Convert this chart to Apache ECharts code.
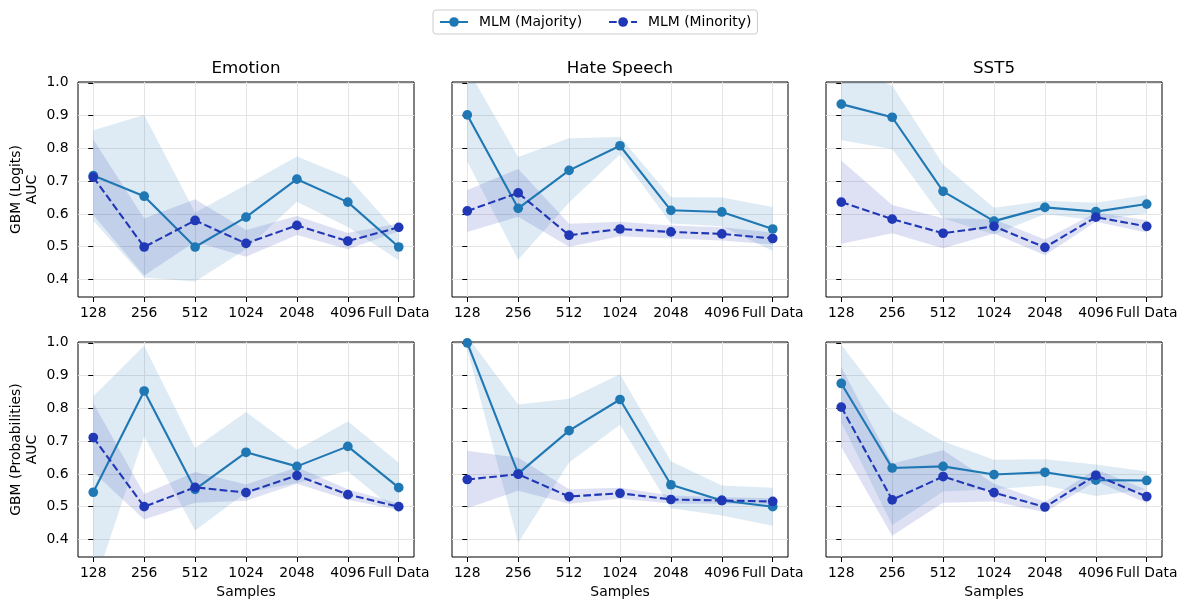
<!DOCTYPE html>
<html>
<head>
<meta charset="utf-8">
<script src="https://cdn.jsdelivr.net/npm/echarts@6/dist/echarts.min.js"></script>
<style>html,body{margin:0;padding:0;background:#fff;}#c{width:1187px;height:610px;}</style>
</head>
<body>
<div id="c"></div>
<script>
// ---- data ----
const categories = ['128', '256', '512', '1024', '2048', '4096', 'Full Data'];
const datasetNames = ['Emotion', 'Hate Speech', 'SST5'];
const rowNames = ['GBM (Logits)', 'GBM (Probabilities)'];
const seriesNames = ['MLM (Majority)', 'MLM (Minority)'];
const yTicks = [0.4, 0.5, 0.6, 0.7, 0.8, 0.9, 1.0];

// GBM (Logits)
const logitsEmotionMaj    = [0.717, 0.654, 0.499, 0.590, 0.706, 0.636, 0.499];
const logitsEmotionMajStd = [0.138, 0.248, 0.105, 0.098, 0.069, 0.076, 0.040];
const logitsEmotionMin    = [0.712, 0.499, 0.580, 0.510, 0.565, 0.517, 0.559];
const logitsEmotionMinStd = [0.115, 0.087, 0.065, 0.041, 0.029, 0.025, 0.012];

const logitsHateMaj    = [0.902, 0.617, 0.733, 0.808, 0.611, 0.606, 0.554];
const logitsHateMajStd = [0.142, 0.157, 0.098, 0.027, 0.040, 0.044, 0.067];
const logitsHateMin    = [0.609, 0.664, 0.535, 0.554, 0.545, 0.539, 0.525];
const logitsHateMinStd = [0.064, 0.073, 0.035, 0.022, 0.020, 0.020, 0.018];

const logitsSstMaj    = [0.935, 0.895, 0.669, 0.578, 0.620, 0.607, 0.630];
const logitsSstMajStd = [0.110, 0.097, 0.082, 0.041, 0.020, 0.027, 0.028];
const logitsSstMin    = [0.636, 0.584, 0.541, 0.562, 0.498, 0.590, 0.562];
const logitsSstMinStd = [0.127, 0.043, 0.046, 0.022, 0.024, 0.014, 0.019];

// GBM (Probabilities)
const probsEmotionMaj    = [0.544, 0.853, 0.553, 0.666, 0.623, 0.684, 0.558];
const probsEmotionMajStd = [0.293, 0.138, 0.126, 0.123, 0.051, 0.076, 0.077];
const probsEmotionMin    = [0.711, 0.500, 0.559, 0.543, 0.595, 0.537, 0.500];
const probsEmotionMinStd = [0.105, 0.039, 0.047, 0.025, 0.025, 0.016, 0.010];

const probsHateMaj    = [1.000, 0.601, 0.732, 0.827, 0.567, 0.519, 0.500];
const probsHateMajStd = [0.020, 0.211, 0.097, 0.077, 0.072, 0.046, 0.058];
const probsHateMin    = [0.583, 0.599, 0.531, 0.541, 0.522, 0.519, 0.516];
const probsHateMinStd = [0.088, 0.050, 0.022, 0.017, 0.012, 0.010, 0.010];

const probsSstMaj    = [0.876, 0.618, 0.623, 0.598, 0.605, 0.581, 0.580];
const probsSstMajStd = [0.118, 0.174, 0.077, 0.045, 0.040, 0.048, 0.027];
const probsSstMin    = [0.804, 0.521, 0.592, 0.543, 0.499, 0.596, 0.531];
const probsSstMinStd = [0.122, 0.110, 0.080, 0.027, 0.016, 0.018, 0.020];

const panels = [
  [logitsEmotionMaj, logitsEmotionMajStd, logitsEmotionMin, logitsEmotionMinStd],
  [logitsHateMaj, logitsHateMajStd, logitsHateMin, logitsHateMinStd],
  [logitsSstMaj, logitsSstMajStd, logitsSstMin, logitsSstMinStd],
  [probsEmotionMaj, probsEmotionMajStd, probsEmotionMin, probsEmotionMinStd],
  [probsHateMaj, probsHateMajStd, probsHateMin, probsHateMinStd],
  [probsSstMaj, probsSstMajStd, probsSstMin, probsSstMinStd]
];

// ---- layout / style ----
const FONT = 'DejaVu Sans';
const MAJ = '#1f77b4';
const MIN = '#2138b6';
const MAJ_FILL = 'rgba(31,119,180,0.15)';
const MIN_FILL = 'rgba(33,56,182,0.15)';
const colLeft = [78, 452, 826];
const rowTop = [82, 342];
const W = 336, H = 215;
const xTickVals = categories.map((_, i) => i);

const grids = [], xAxes = [], yAxes = [], series = [], graphics = [];

function near(v, t) { return Math.abs(v - t) < 1e-6; }

// band polygon (mean ± std) drawn through the axis scales with api.coord
function bandRenderer(lows, highs, fill) {
  return function (params, api) {
    if (params.dataIndex !== 0) return null;
    const pts = [];
    for (let i = 0; i < highs.length; i++) pts.push(api.coord([i, highs[i]]));
    for (let i = lows.length - 1; i >= 0; i--) pts.push(api.coord([i, lows[i]]));
    return { type: 'polygon', shape: { points: pts }, style: { fill: fill, stroke: null }, silent: true };
  };
}

for (let r = 0; r < 2; r++) {
  for (let c = 0; c < 3; c++) {
    const idx = r * 3 + c;
    grids.push({
      left: colLeft[c], top: rowTop[r], width: W, height: H,
      show: true, borderColor: '#000', borderWidth: 1, backgroundColor: 'transparent', containLabel: false
    });
    xAxes.push({
      type: 'value', gridIndex: idx, min: -0.3, max: 6.3,
      axisLine: { show: false },
      axisTick: { show: true, length: 5, lineStyle: { color: '#000', width: 1 }, customValues: xTickVals },
      axisLabel: {
        show: true, margin: 9.5, color: '#000', fontSize: 13.9, fontFamily: FONT,
        customValues: xTickVals,
        formatter: function (v) {
          const k = Math.round(v);
          return (near(v, k) && k >= 0 && k < categories.length) ? categories[k] : '';
        }
      },
      splitLine: { show: true, lineStyle: { color: '#e4e4e4', width: 1 } }
    });
    yAxes.push({
      type: 'value', gridIndex: idx, min: 0.3465, max: 1.0025,
      axisLine: { show: false },
      axisTick: { show: true, length: 5, lineStyle: { color: '#000', width: 1 }, customValues: yTicks },
      axisLabel: {
        show: c === 0, margin: 9.5, color: '#000', fontSize: 13.9, fontFamily: FONT,
        customValues: yTicks,
        formatter: function (v) {
          for (const t of yTicks) if (near(v, t)) return t.toFixed(1);
          return '';
        }
      },
      splitLine: { show: true, lineStyle: { color: '#e4e4e4', width: 1 } }
    });

    const [maj, majStd, mn, mnStd] = panels[idx];
    const bands = [[maj, majStd, MAJ_FILL], [mn, mnStd, MIN_FILL]];
    bands.forEach(([m, s, fill]) => {
      const lows = m.map((v, i) => v - s[i]);
      const highs = m.map((v, i) => v + s[i]);
      series.push({
        type: 'custom', xAxisIndex: idx, yAxisIndex: idx, clip: true, silent: true, z: 1,
        data: m.map((v, i) => [i, lows[i], highs[i]]),
        encode: { x: 0, y: [1, 2] },
        renderItem: bandRenderer(lows, highs, fill)
      });
    });
    series.push({
      type: 'line', name: seriesNames[0], xAxisIndex: idx, yAxisIndex: idx,
      data: maj.map((v, i) => [i, v]),
      symbol: 'circle', symbolSize: 9.7, showSymbol: true,
      itemStyle: { color: MAJ }, lineStyle: { color: MAJ, width: 2.1 }, z: 3, clip: true
    });
    series.push({
      type: 'line', name: seriesNames[1], xAxisIndex: idx, yAxisIndex: idx,
      data: mn.map((v, i) => [i, v]),
      symbol: 'circle', symbolSize: 9.7, showSymbol: true,
      itemStyle: { color: MIN }, lineStyle: { color: MIN, width: 2.1, type: [7.7, 3.3] }, z: 4, clip: true
    });
  }
}

// titles and x labels
datasetNames.forEach((t, c) => {
  graphics.push({
    type: 'text', x: colLeft[c] + W / 2, y: 69,
    style: { text: t, fill: '#000', font: '16.7px "' + FONT + '"', textAlign: 'center', textVerticalAlign: 'middle' }
  });
  graphics.push({
    type: 'text', x: colLeft[c] + W / 2, y: 592,
    style: { text: 'Samples', fill: '#000', font: '13.9px "' + FONT + '"', textAlign: 'center', textVerticalAlign: 'middle' }
  });
});
// row labels
rowNames.forEach((t, r) => {
  graphics.push({
    type: 'text', x: 24, y: rowTop[r] + H / 2, rotation: Math.PI / 2,
    style: { text: t + '\nAUC', fill: '#000', font: '13.9px "' + FONT + '"', lineHeight: 16, textAlign: 'center', textVerticalAlign: 'middle' }
  });
});

const chart = echarts.init(document.getElementById('c'), null, { renderer: 'canvas' });
chart.setOption({
  animation: false,
  backgroundColor: '#fff',
  textStyle: { fontFamily: FONT },
  legend: {
    data: seriesNames, left: 433, top: 10, orient: 'horizontal',
    itemWidth: 28, itemHeight: 12, itemGap: 26,
    padding: [5, 6, 5, 6], borderColor: '#cccccc', borderWidth: 1, borderRadius: 3,
    selectedMode: false,
    textStyle: { fontSize: 13.9, fontFamily: FONT, color: '#000', padding: [0, 0, 0, 6] }
  },
  grid: grids, xAxis: xAxes, yAxis: yAxes, series: series, graphic: graphics
});
</script>
</body>
</html>
